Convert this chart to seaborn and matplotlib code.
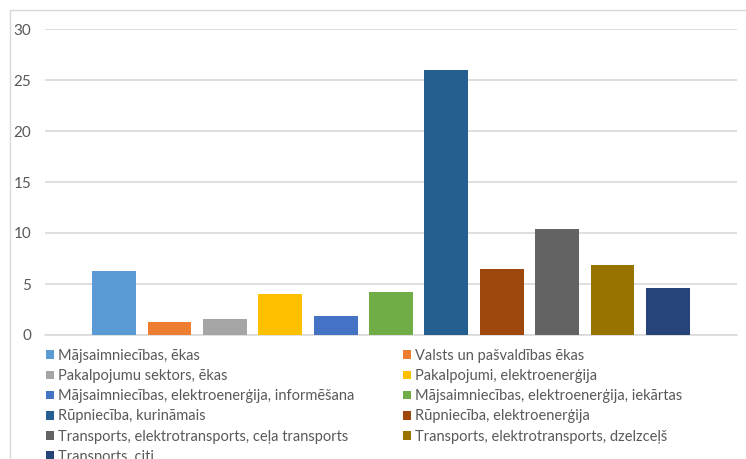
import matplotlib.pyplot as plt
import seaborn as sns
import pandas as pd
from matplotlib.patches import Patch, Rectangle

CATEGORIES = [
    "Mājsaimniecības, ēkas",
    "Valsts un pašvaldības ēkas",
    "Pakalpojumu sektors, ēkas",
    "Pakalpojumi, elektroenerģija",
    "Mājsaimniecības, elektroenerģija, informēšana",
    "Mājsaimniecības, elektroenerģija, iekārtas",
    "Rūpniecība, kurināmais",
    "Rūpniecība, elektroenerģija",
    "Transports, elektrotransports, ceļa transports",
    "Transports, elektrotransports, dzelzceļš",
    "Transports, citi",
]
VALUES = [6.25, 1.3, 1.6, 4.0, 1.85, 4.25, 26.0, 6.5, 10.35, 6.9, 4.6]
COLORS = ["#5B9BD5", "#ED7D31", "#A5A5A5", "#FFC000", "#4472C4", "#70AD47",
          "#255E91", "#9E480E", "#636363", "#997300", "#264478"]
YTICKS = [0, 5, 10, 15, 20, 25, 30]

GRID = "#d9d9d9"
TEXT = "#595959"
W, H = 746, 459


def add_legend(fig, idx, x_px):
    handles = [Patch(facecolor=COLORS[i], edgecolor="none") for i in idx]
    labels = [CATEGORIES[i] for i in idx]
    leg = fig.legend(handles, labels, loc="upper left",
                     bbox_to_anchor=(x_px / W, 1 - 349 / H),
                     frameon=False, fontsize=10.5, labelcolor=TEXT,
                     handlelength=0.55, handleheight=0.55, handletextpad=0.3,
                     labelspacing=0.42, borderpad=0, borderaxespad=0)
    return leg


def create_plot(out):
    sns.set_style("white")
    plt.rcParams["font.family"] = ["Lato", "DejaVu Sans"]

    fig = plt.figure(figsize=(W / 100, H / 100), dpi=100)
    ax = fig.add_axes([45 / W, 124 / H, 692 / W, 306 / H])

    data = pd.DataFrame({"cat": CATEGORIES, "val": VALUES})
    sns.barplot(data=data, x="cat", y="val", hue="cat", palette=COLORS,
                order=CATEGORIES, hue_order=CATEGORIES, legend=False,
                width=0.79, dodge=False, linewidth=0, saturation=1, ax=ax)

    # Axis style
    ax.set_ylim(0, 30)
    ax.set_xlim(-1.25, 11.25)
    ax.set_yticks(YTICKS)
    ax.set_yticklabels([str(t) for t in YTICKS], color=TEXT, fontsize=11)
    ax.set_xticks([])
    ax.set_xlabel("")
    ax.set_ylabel("")
    ax.tick_params(axis="y", length=0, pad=10)
    for s in ax.spines.values():
        s.set_visible(False)
    ax.yaxis.grid(True, color=GRID, linewidth=1.2)
    ax.set_axisbelow(True)
    ax.axhline(0, color=GRID, linewidth=1.2, clip_on=False, zorder=0.5)

    # Legend: two columns, row-wise order
    add_legend(fig, [0, 2, 4, 6, 8, 10], 46)
    add_legend(fig, [1, 3, 5, 7, 9], 403)

    # Outer chart border (partly cropped)
    fig.patches.append(Rectangle((9.5 / W, -0.1), 1.2, 1 - 10 / H + 0.1,
                                 transform=fig.transFigure, fill=False,
                                 edgecolor=GRID, linewidth=1))

    fig.savefig(out, dpi=100)


create_plot("out.png")
